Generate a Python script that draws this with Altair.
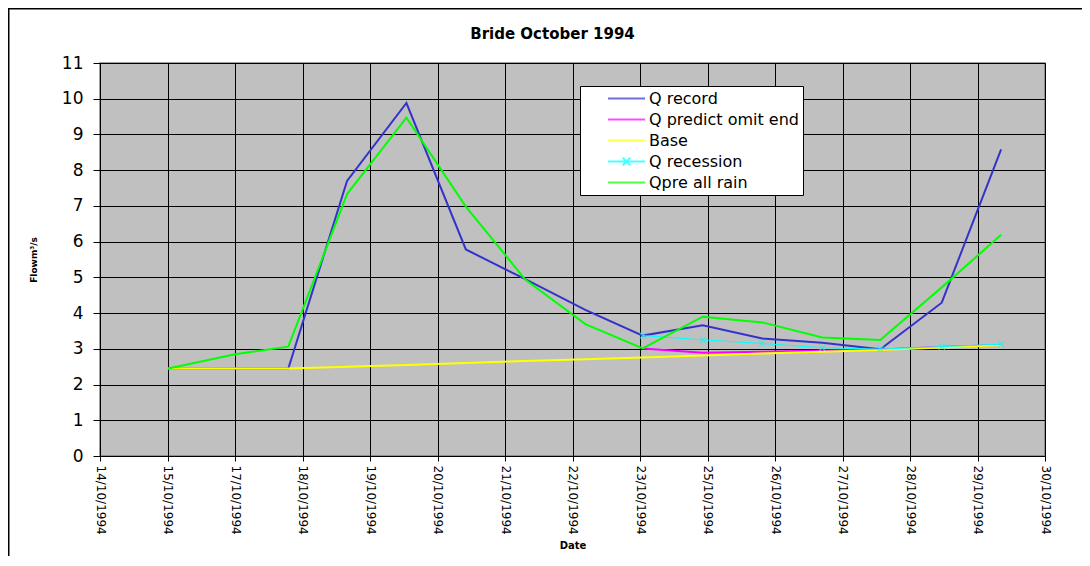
import altair as alt
import pandas as pd

# ---- data ----
tick_labels = ["14/10/1994", "15/10/1994", "17/10/1994", "18/10/1994", "19/10/1994",
               "20/10/1994", "21/10/1994", "22/10/1994", "23/10/1994", "25/10/1994",
               "26/10/1994", "27/10/1994", "28/10/1994", "29/10/1994", "30/10/1994"]

# x positions of the samples, in axis-tick units (0 = first tick)
x_pos = [1.01, 2.00, 2.79, 3.66, 4.54, 5.42, 6.30, 7.19, 8.04, 8.93, 9.81, 10.70, 11.56, 12.47, 13.35]

q_record = [2.45, 2.45, 2.45, 7.70, 9.88, 5.78, 4.95, 4.09, 3.37, 3.66, 3.29, 3.17, 2.99, 4.29, 8.58]
q_predict = [None, None, None, None, None, None, None, None, 3.01, 2.89, 2.92, 2.95, 2.98, 3.05, 3.11]
base = [2.45, 2.45, 2.45, 2.50, 2.55, 2.60, 2.66, 2.71, 2.76, 2.81, 2.87, 2.92, 2.97, 3.04, 3.10]
q_recession = [None, None, None, None, None, None, None, None, 3.37, 3.25, 3.15, 3.03, 2.99, 3.06, 3.13]
qpre_all = [2.45, 2.85, 3.06, 7.33, 9.47, 6.98, 4.94, 3.69, 3.01, 3.90, 3.74, 3.32, 3.25, 4.72, 6.19]

series_names = ["Q record", "Q predict omit end", "Base", "Q recession", "Qpre all rain"]
series_values = [q_record, q_predict, base, q_recession, qpre_all]
series_colors = ["#3333CC", "#FF00FF", "#FFFF00", "#00FFFF", "#00FF00"]
series_widths = [2, 2, 2, 1, 2]
X_PATH = "M-1,-1L1,1M-1,1L1,-1"
LINE_PATH = "M-2.47,0L2.47,0"
LINE_X_PATH = "M-2.47,0L2.47,0M-0.5,-0.5L0.5,0.5M-0.5,0.5L0.5,-0.5"
legend_shapes = [LINE_PATH, LINE_PATH, LINE_PATH, LINE_X_PATH, LINE_PATH]

rows = []
for name, vals in zip(series_names, series_values):
    for xv, yv in zip(x_pos, vals):
        if yv is not None:
            rows.append({"x": xv, "flow": yv, "series": name})
df = pd.DataFrame(rows)

FONT = "DejaVu Sans"
label_js = "[" + ",".join("'" + t + "'" for t in tick_labels) + "]"
NBSP = "\u00a0"

color_scale = alt.Scale(domain=series_names, range=series_colors)
shape_scale = alt.Scale(domain=series_names, range=legend_shapes)

xenc = alt.X("x:Q", scale=alt.Scale(domain=[0, 14], nice=False, zero=False),
             axis=alt.Axis(values=list(range(15)), labelExpr=label_js + "[datum.value]",
                           labelAngle=90, labelFontSize=12, labelFont=FONT, labelColor="black",
                           tickSize=5, tickColor="black", labelPadding=4,
                           grid=True, gridColor="black", gridWidth=1,
                           domainColor="black", labelOverlap=False, labelFlush=False,
                           title="Date", titleFont=FONT, titleFontSize=10, titleFontWeight="bold",
                           titleColor="black", titleY=84, titleX=472.5))
yenc = alt.Y("flow:Q", scale=alt.Scale(domain=[0, 11], nice=False),
             axis=alt.Axis(values=list(range(12)), labelFontSize=17, labelFont=FONT,
                           labelColor="black", tickSize=7, tickColor="black", labelPadding=10,
                           grid=True, gridColor="black", gridWidth=1, domainColor="black",
                           title="Flowm³/s", titleFont=FONT, titleFontSize=9,
                           titleFontWeight="bold", titleColor="black",
                           titleX=-62, titleY=196.5, titleAngle=-90, titleAlign="center",
                           titleBaseline="bottom"))

legend = alt.Legend(
    title=None, orient="none", legendX=480, legendY=23,
    fillColor="white", strokeColor="black", padding=4,
    symbolSize=225, symbolStrokeWidth=2,
    labelFont=FONT, labelFontSize=16, labelColor="black", labelOffset=14,
    labelExpr="datum.label + '" + NBSP * 3 + "'",
    rowPadding=4, symbolOffset=34,
)

color_enc = alt.Color("series:N", scale=color_scale, legend=legend)

base_chart = alt.Chart(df)
layers = []
for name, w in zip(series_names, series_widths):
    layers.append(
        base_chart.transform_filter(alt.datum.series == name)
        .mark_line(strokeWidth=w)
        .encode(x=xenc, y=yenc, color=color_enc)
    )
    if name == "Q recession":
        layers.append(
            base_chart.transform_filter(alt.datum.series == name)
            .mark_point(shape=X_PATH, filled=False, size=40, strokeWidth=1.2)
            .encode(x=xenc, y=yenc, color=color_enc)
        )

# legend layer: gives the legend its per-series symbol shapes (draws no data marks)
legend_layer = (
    base_chart.transform_filter(alt.datum.series == "__none__")
    .mark_point(filled=False)
    .encode(x=xenc, y=yenc, color=color_enc,
            shape=alt.Shape("series:N", scale=shape_scale, legend=legend))
)

frame = alt.Chart(pd.DataFrame({"a": [0]})).mark_rect(
    fillOpacity=0, stroke="black", strokeWidth=1.5
).encode(x=alt.value(-91.25), y=alt.value(-54.25), x2=alt.value(1100), y2=alt.value(700))

chart = alt.layer(frame, *layers, legend_layer).properties(
    width=945, height=393,
    title=alt.TitleParams("Bride October 1994", font=FONT, fontSize=15, fontWeight="bold",
                          color="black", anchor="middle", frame="group", dx=-20, dy=56, offset=22),
    autosize=alt.AutoSizeParams(type="none"),
    padding={"left": 92, "top": 55, "right": 37, "bottom": 100},
    background="white",
).configure_view(fill="#C0C0C0", stroke="#808080", strokeWidth=1.5)

chart.save("out.html", embed_options={"renderer": "svg", "actions": False})
